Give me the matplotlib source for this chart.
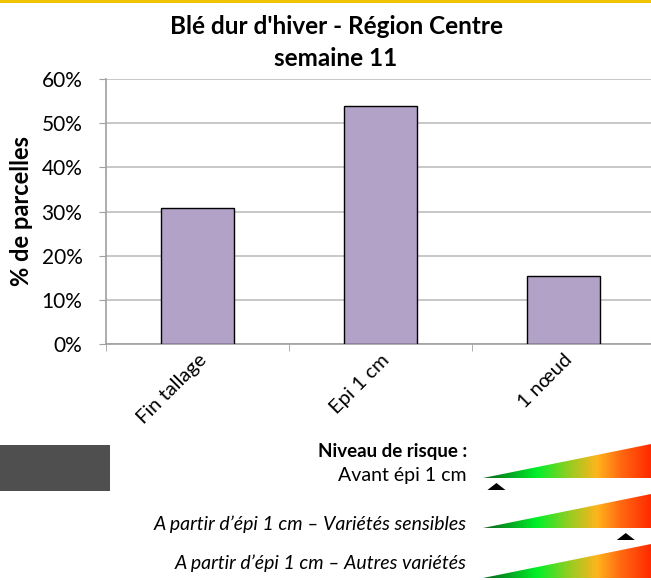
import numpy as np
import matplotlib
matplotlib.use("Agg")
import matplotlib.pyplot as plt
from matplotlib.colors import LinearSegmentedColormap
from matplotlib.patches import Polygon, Rectangle

plt.rcParams["font.family"] = ["Lato", "DejaVu Sans"]

# Donnees du graphique
stades = ["Fin tallage", "Epi 1 cm", "1 nœud"]
pct_parcelles = [30.77, 53.85, 15.38]
yticks = [0, 10, 20, 30, 40, 50, 60]

# Legende du niveau de risque
risque_labels = ["Avant épi 1 cm",
                 "A partir d’épi 1 cm – Variétés sensibles",
                 "A partir d’épi 1 cm – Autres variétés"]
risque_position = [0.08, 0.85, None]  # position du triangle sur la rampe (0-1)

W, H = 651, 580
fig = plt.figure(figsize=(W / 100, H / 100), dpi=100)

# --- axe principal (coordonnees en pixels converties en fractions) ---
x0, x1 = 106, 651
y_top, y_bot = 79, 344
ax = fig.add_axes([x0 / W, 1 - y_bot / H, (x1 - x0) / W, (y_bot - y_top) / H])

x = np.arange(len(stades))
ax.bar(x, pct_parcelles, width=0.4, color="#b2a2c7", edgecolor="black",
       linewidth=1.0, zorder=3)

ax.set_xlim(-0.5, -0.5 + (x1 - x0) / 183)
ax.set_ylim(0, 60)
ax.set_yticks(yticks)
ax.set_yticklabels([f"{v}%" for v in yticks], fontsize=15)
ax.yaxis.grid(True, color="#bfbfbf", linewidth=1.2, zorder=0)
ax.tick_params(axis="y", length=5, color="#a0a0a0", pad=12)

ax.set_xticks(x)
ax.set_xticklabels(stades, rotation=45, ha="right", va="top",
                   rotation_mode="anchor", fontsize=14.5)
ax.tick_params(axis="x", which="major", length=0, pad=5)
ax.set_xticks([-0.5, 0.5, 1.5], minor=True)
ax.tick_params(axis="x", which="minor", length=5, color="#a0a0a0")

for s in ["top", "right"]:
    ax.spines[s].set_visible(False)
for s in ["left", "bottom"]:
    ax.spines[s].set_color("#a0a0a0")
    ax.spines[s].set_linewidth(1.2)

ax.set_ylabel("% de parcelles", fontsize=17, fontweight="bold")
ax.yaxis.set_label_coords((33 - x0) / (x1 - x0), 0.5)

# titre
fig.text(336 / W, 1 - 26 / H, "Blé dur d'hiver - Région Centre",
         ha="center", va="center", fontsize=17.5, fontweight="bold")
fig.text(336 / W, 1 - 58 / H, "semaine 11",
         ha="center", va="center", fontsize=17.5, fontweight="bold")

# --- surcouche en pixels pour la decoration et la legende de risque ---
ov = fig.add_axes([0, 0, 1, 1], zorder=5)
ov.set_xlim(0, W)
ov.set_ylim(H, 0)
ov.axis("off")
ov.patch.set_alpha(0)

# bande jaune en haut
ov.add_patch(Rectangle((0, 0), W, 3, color="#f0c400", lw=0))
# bloc gris a gauche
ov.add_patch(Rectangle((0, 445), 110, 46, color="#4f4f4f", lw=0))

cmap = LinearSegmentedColormap.from_list(
    "risque",
    [(0.0, "#0a5e1a"), (0.32, "#00f02a"), (0.5, "#8ccf22"),
     (0.68, "#ffb41c"), (0.82, "#ff6a12"), (1.0, "#ff2a00")])
grad = np.linspace(0, 1, 256).reshape(1, -1)

ov.text(467, 452, "Niveau de risque :", ha="right", va="center",
        fontsize=13.5, fontweight="bold")

ramp_x0, ramp_x1 = 483, 651
bottoms = [478, 528, 578]
text_y = [476, 524, 563]
for i, (lab, yb) in enumerate(zip(risque_labels, bottoms)):
    yt = yb - 34
    poly = Polygon([(ramp_x0, yb), (ramp_x1, yt), (ramp_x1, yb)],
                   closed=True, fc="none", ec="none")
    ov.add_patch(poly)
    im = ov.imshow(grad, cmap=cmap, aspect="auto",
                   extent=(ramp_x0, ramp_x1, yb, yt), interpolation="bicubic")
    im.set_clip_path(poly)
    style = "normal" if i == 0 else "italic"
    ov.text(467, text_y[i], lab, ha="right", va="center",
            fontsize=14, style=style)
    pos = risque_position[i]
    if pos is not None:
        cx = ramp_x0 + pos * (ramp_x1 - ramp_x0)
        ov.add_patch(Polygon([(cx - 9, yb + 12), (cx + 9, yb + 12), (cx, yb + 5)],
                             closed=True, color="black", lw=0))

ov.set_xlim(0, W)
ov.set_ylim(H, 0)

fig.savefig("out.png", dpi=100)
